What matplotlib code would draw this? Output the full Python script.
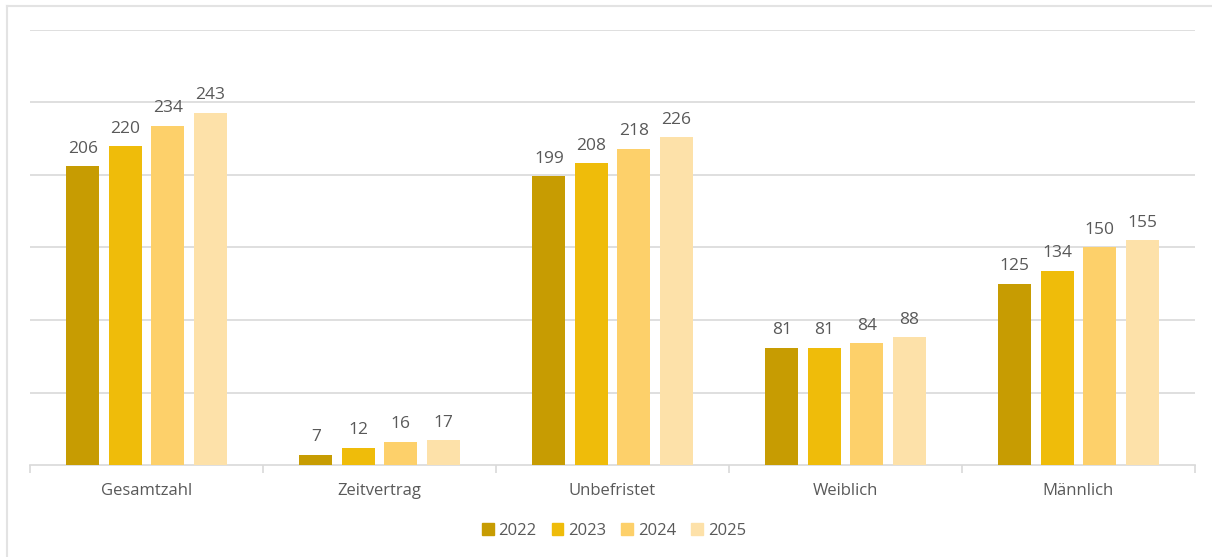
import matplotlib.pyplot as plt
import numpy as np
from matplotlib.lines import Line2D

categories = ['Gesamtzahl', 'Zeitvertrag', 'Unbefristet', 'Weiblich', 'Männlich']
years = ['2022', '2023', '2024', '2025']
v2022 = [206, 7, 199, 81, 125]
v2023 = [220, 12, 208, 81, 134]
v2024 = [234, 16, 218, 84, 150]
v2025 = [243, 17, 226, 88, 155]
series = [v2022, v2023, v2024, v2025]
colors = ['#C79C02', '#EFBC0A', '#FDD06A', '#FDE1A9']

plt.rcParams['font.family'] = ['Open Sans', 'DejaVu Sans']

W, H = 1212, 557
fig = plt.figure(figsize=(W / 100, H / 100), dpi=100)
ax = fig.add_axes([30 / W, (H - 465) / H, (1195 - 30) / W, (465 - 30) / H])

x = np.arange(len(categories))
width = 0.142
step = 0.182
for i, (vals, c) in enumerate(zip(series, colors)):
    pos = x + (i - 1.5) * step
    bars = ax.bar(pos, vals, width=width, color=c, label=years[i], zorder=3)
    for b, v in zip(bars, vals):
        ax.text(b.get_x() + b.get_width() / 2, v + 6.5, str(v), ha='center', va='bottom',
                fontsize=12.5, color='#595959')

ax.set_xlim(-0.5, len(categories) - 0.5)
ax.set_ylim(0, 300)
ax.set_yticks(np.arange(50, 301, 50))
ax.yaxis.grid(True, color='#D9D9D9', linewidth=1.2, zorder=0)
ax.tick_params(axis='y', left=False, labelleft=False)
for s in ['top', 'right', 'left']:
    ax.spines[s].set_visible(False)
ax.spines['bottom'].set_color('#D9D9D9')
ax.spines['bottom'].set_linewidth(1.2)

ax.set_xticks(x)
ax.set_xticklabels(categories, fontsize=12, color='#595959')
ax.tick_params(axis='x', length=0, pad=13)
ax.set_xticks(np.arange(-0.5, len(categories), 1), minor=True)
ax.tick_params(axis='x', which='minor', length=6, color='#D9D9D9', width=1.2)

handles = [plt.Rectangle((0, 0), 1, 1, color=c) for c in colors]
fig.legend(handles, years, loc='center', bbox_to_anchor=(614 / W, (H - 531) / H), ncol=4,
           frameon=False, fontsize=12, handlelength=0.7, handleheight=0.7,
           handletextpad=0.3, columnspacing=0.9, labelcolor='#595959')

# outer frame (top and left only)
fig.add_artist(Line2D([7 / W, 1.0], [1 - 6 / H, 1 - 6 / H], color='#E3E3E3', linewidth=1.5,
                      transform=fig.transFigure))
fig.add_artist(Line2D([7 / W, 7 / W], [0, 1 - 6 / H], color='#E3E3E3', linewidth=1.5,
                      transform=fig.transFigure))

fig.savefig('out.png', dpi=100)
